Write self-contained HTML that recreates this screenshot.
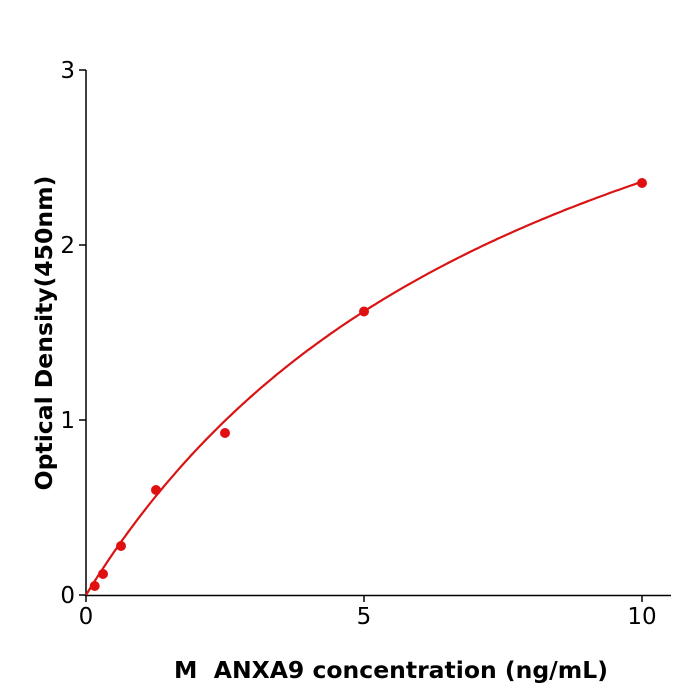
<!DOCTYPE html>
<html><head><meta charset="utf-8"><style>
body{margin:0;background:#fff}
svg{display:block}
text{font-family:"DejaVu Sans","Liberation Sans",sans-serif;fill:#000}
</style></head><body>
<svg id="s" width="700" height="700" xmlns="http://www.w3.org/2000/svg">
<line x1="86" y1="70" x2="86" y2="596" stroke="#000" stroke-width="1.5"/>
<line x1="85" y1="595.5" x2="671" y2="595.5" stroke="#000" stroke-width="1.5"/>
<g stroke="#000" stroke-width="1.5">
<line x1="79" y1="595" x2="86" y2="595"/>
<line x1="79" y1="420" x2="86" y2="420"/>
<line x1="79" y1="245" x2="86" y2="245"/>
<line x1="79" y1="70" x2="86" y2="70"/>
<line x1="86" y1="595" x2="86" y2="602"/>
<line x1="364" y1="595" x2="364" y2="602"/>
<line x1="642" y1="595" x2="642" y2="602"/>
</g>
<g font-size="23" text-anchor="end">
<text x="75" y="603">0</text>
<text x="75" y="428">1</text>
<text x="75" y="253">2</text>
<text x="75" y="78">3</text>
</g>
<g font-size="23" text-anchor="middle">
<text x="86" y="624">0</text>
<text x="364" y="624">5</text>
<text x="642" y="624">10</text>
</g>
<text x="391" y="678" font-size="23.5" font-weight="bold" text-anchor="middle">M&#160; ANXA9 concentration (ng/mL)</text>
<text transform="translate(52,333) rotate(-90)" font-size="23.5" font-weight="bold" text-anchor="middle">Optical Density(450nm)</text>
<path id="c" fill="none" stroke="#d91414" stroke-width="2.2"/>
<g fill="#e01010">
<circle cx="94.7" cy="586" r="5"/>
<circle cx="103" cy="574" r="5"/>
<circle cx="121" cy="546" r="5"/>
<circle cx="156" cy="490" r="5"/>
<circle cx="225" cy="433" r="5"/>
<circle cx="364" cy="311.5" r="5"/>
<circle cx="642" cy="183" r="5"/>
</g>
</svg>
<script>
var d="";for(var i=0;i<=200;i++){var x=i*10/200;var y=4.35*x/(8.42+x);d+=(i?"L":"M")+(86+55.6*x).toFixed(1)+","+(595-175*y).toFixed(1);}
document.getElementById("c").setAttribute("d",d);
</script>
</body></html>
